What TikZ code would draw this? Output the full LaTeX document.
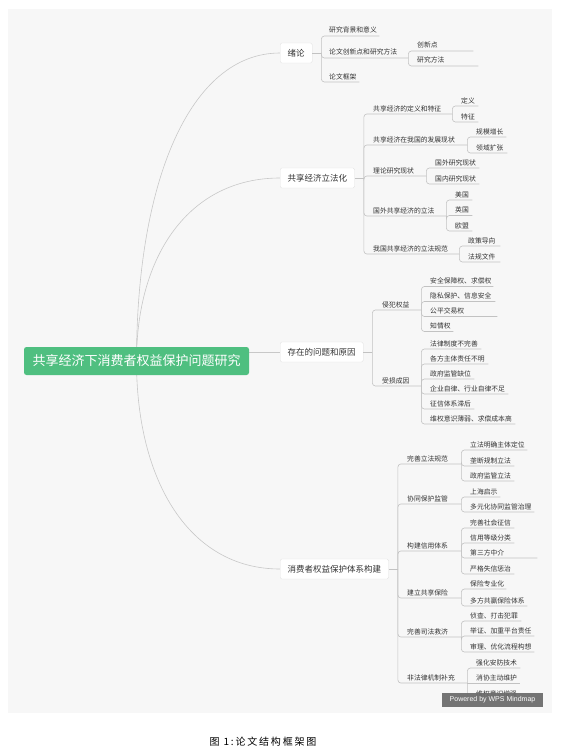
\documentclass[tikz,border=0pt]{standalone}
\usepackage{fontspec}
\setmainfont{Noto Sans CJK SC}
\newfontfamily\latinsans{Liberation Sans}
\newfontfamily\capfont[LetterSpace=18]{Noto Sans CJK SC}
\usetikzlibrary{calc}
\pgfdeclarelayer{canvas}
\pgfdeclarelayer{edges}
\pgfsetlayers{canvas,edges,main}
\definecolor{canvasbg}{HTML}{F7F7F7}
\definecolor{rootgreen}{HTML}{4FBF80}
\definecolor{linec}{HTML}{C2C2C2}
\definecolor{curvec}{HTML}{C8C8C8}
\definecolor{boxline}{HTML}{E0E0E0}
\definecolor{txt}{HTML}{333333}
\definecolor{wmark}{HTML}{6B6B6B}
\newcommand\mitem[5]{%
  \pgfmathsetmacro\mw{#4-#2-9}%
  \node[itm] (#1) at (#2+9,#3) {\makebox[\mw pt][l]{#5}};}
\newcommand\mlink[2]{\draw[conn] (#1) |- (#2.south east);}
\tikzset{
  itm/.style={anchor=south west, inner xsep=0pt, inner ysep=1.6pt, text height=5.6pt, text depth=1.2pt, font=\fontsize{6.8}{8}\selectfont, text=txt},
  conn/.style={draw=linec, line width=0.6pt, rounded corners=3pt},
  curve/.style={draw=curvec, line width=0.6pt},
  lvl1/.style={draw=boxline, fill=white, rounded corners=1.5pt, minimum height=20pt, inner xsep=7.5pt, inner ysep=0pt, anchor=west, font=\fontsize{8.5}{10}\selectfont, text=txt},
  rootnode/.style={fill=rootgreen, rounded corners=2.5pt, minimum width=225pt, minimum height=28pt, inner sep=0pt, text=white, font=\fontsize{13}{15}\selectfont}
}
\begin{document}
\begin{tikzpicture}[x=1pt,y=-1pt]
\useasboundingbox (0,0) rectangle (565,752);
\begin{pgfonlayer}{canvas}
\fill[white] (0,0) rectangle (565,752);
\fill[canvasbg] (8,9) rectangle (552,713);
\end{pgfonlayer}
% root and level 1
\node[rootnode] (root) at (136.5,361) {共享经济下消费者权益保护问题研究};
\node[lvl1] (n1) at (280,53) {绪论};
\node[lvl1] (n2) at (280,178) {共享经济立法化};
\node[lvl1] (n3) at (280,352) {存在的问题和原因};
\node[lvl1] (n4) at (280,569) {消费者权益保护体系构建};
\foreach \t in {n1,n2,n3,n4} {
  \coordinate (\t b) at ([xshift=9pt]\t.east);
  \draw[conn] (\t.east) -- (\t b);
}
\begin{pgfonlayer}{edges}
\foreach \t in {n1,n2,n4}
  \draw[curve] (root.center) .. controls ($(root.center)!0.58!(root.center |- \t.west)$) and ($(\t.west)!0.63!(root.center |- \t.west)$) .. (\t.west);
\draw[curve] (root.east |- n3.west) -- (n3.west);
\end{pgfonlayer}
% 绪论
\mitem{a1}{320}{36}{379}{研究背景和意义}
\mitem{a2}{320}{58}{408}{论文创新点和研究方法}
\mitem{a3}{320}{82}{359}{论文框架}
\mitem{a2a}{408}{51}{473}{创新点}
\mitem{a2b}{408}{66}{478}{研究方法}
\mlink{n1b}{a1}\mlink{n1b}{a2}\mlink{n1b}{a3}
\mlink{a2.south east}{a2a}\mlink{a2.south east}{a2b}
% 共享经济立法化
\mitem{b1}{364}{114}{452}{共享经济的定义和特征}
\mitem{b2}{364}{145}{467}{共享经济在我国的发展现状}
\mitem{b3}{364}{176}{426}{理论研究现状}
\mitem{b4}{364}{216}{446}{国外共享经济的立法}
\mitem{b5}{364}{254}{459}{我国共享经济的立法规范}
\mlink{n2b}{b1}\mlink{n2b}{b2}\mlink{n2b}{b3}\mlink{n2b}{b4}\mlink{n2b}{b5}
\mitem{b1a}{452}{106}{478}{定义}
\mitem{b1b}{452}{122}{478}{特征}
\mlink{b1.south east}{b1a}\mlink{b1.south east}{b1b}
\mitem{b2a}{467}{137}{506}{规模增长}
\mitem{b2b}{467}{153}{507}{领域扩张}
\mlink{b2.south east}{b2a}\mlink{b2.south east}{b2b}
\mitem{b3a}{426}{168}{479}{国外研究现状}
\mitem{b3b}{426}{184}{479}{国内研究现状}
\mlink{b3.south east}{b3a}\mlink{b3.south east}{b3b}
\mitem{b4a}{446}{200}{472}{美国}
\mitem{b4b}{446}{215.5}{472}{英国}
\mitem{b4c}{446}{231}{472}{欧盟}
\mlink{b4.south east}{b4a}\mlink{b4.south east}{b4b}\mlink{b4.south east}{b4c}
\mitem{b5a}{459}{246}{500}{政策导向}
\mitem{b5b}{459}{262}{500}{法规文件}
\mlink{b5.south east}{b5a}\mlink{b5.south east}{b5b}
% 存在的问题和原因
\mitem{c1}{373}{310}{421}{侵犯权益}
\mitem{c2}{373}{386}{421}{受损成因}
\mlink{n3b}{c1}\mlink{n3b}{c2}
\mitem{c1a}{421}{286.5}{493}{安全保障权、求偿权}
\mitem{c1b}{421}{301.5}{495}{隐私保护、信息安全}
\mitem{c1c}{421}{316.5}{497}{公平交易权}
\mitem{c1d}{421}{331.5}{453}{知情权}
\mlink{c1.south east}{c1a}\mlink{c1.south east}{c1b}\mlink{c1.south east}{c1c}\mlink{c1.south east}{c1d}
\mitem{c2a}{421}{349}{481}{法律制度不完善}
\mitem{c2b}{421}{364}{488}{各方主体责任不明}
\mitem{c2c}{421}{379}{474}{政府监管缺位}
\mitem{c2d}{421}{394}{508}{企业自律、行业自律不足}
\mitem{c2e}{421}{409}{474}{征信体系滞后}
\mitem{c2f}{421}{424}{515}{维权意识薄弱、求偿成本高}
\mlink{c2.south east}{c2a}\mlink{c2.south east}{c2b}\mlink{c2.south east}{c2c}
\mlink{c2.south east}{c2d}\mlink{c2.south east}{c2e}\mlink{c2.south east}{c2f}
% 消费者权益保护体系构建
\mitem{d1}{398}{464}{461}{完善立法规范}
\mitem{d2}{398}{504}{461}{协同保护监管}
\mitem{d3}{398}{551}{461}{构建信用体系}
\mitem{d4}{398}{598}{461}{建立共享保险}
\mitem{d5}{398}{637}{461}{完善司法救济}
\mitem{d6}{398}{683}{467}{非法律机制补充}
\mlink{n4b}{d1}\mlink{n4b}{d2}\mlink{n4b}{d3}\mlink{n4b}{d4}\mlink{n4b}{d5}\mlink{n4b}{d6}
\mitem{d1a}{461}{450}{527}{立法明确主体定位}
\mitem{d1b}{461}{466}{514}{垄断规制立法}
\mitem{d1c}{461}{481}{514}{政府监管立法}
\mlink{d1.south east}{d1a}\mlink{d1.south east}{d1b}\mlink{d1.south east}{d1c}
\mitem{d2a}{461}{497}{500}{上海启示}
\mitem{d2b}{461}{512}{534}{多元化协同监管治理}
\mlink{d2.south east}{d2a}\mlink{d2.south east}{d2b}
\mitem{d3a}{461}{528}{514}{完善社会征信}
\mitem{d3b}{461}{543}{514}{信用等级分类}
\mitem{d3c}{461}{558}{537}{第三方中介}
\mitem{d3d}{461}{574}{514}{严格失信惩治}
\mlink{d3.south east}{d3a}\mlink{d3.south east}{d3b}\mlink{d3.south east}{d3c}\mlink{d3.south east}{d3d}
\mitem{d4a}{461}{589}{506}{保险专业化}
\mitem{d4b}{461}{606}{527}{多方共赢保险体系}
\mlink{d4.south east}{d4a}\mlink{d4.south east}{d4b}
\mitem{d5a}{461}{621}{521}{侦查、打击犯罪}
\mitem{d5b}{461}{636}{534}{举证、加重平台责任}
\mitem{d5c}{461}{652}{534}{审理、优化流程构想}
\mlink{d5.south east}{d5a}\mlink{d5.south east}{d5b}\mlink{d5.south east}{d5c}
\mitem{d6a}{467}{668}{520}{强化安防技术}
\mitem{d6b}{467}{683}{520}{消协主动维护}
\mitem{d6c}{467}{699}{520}{维权意识增强}
\mlink{d6.south east}{d6a}\draw[conn] (d6.south east) -- (d6b.south east);\mlink{d6.south east}{d6c}
% watermark and caption
\node[fill=wmark, fill opacity=0.93, text opacity=1, text=white, minimum width=101pt, minimum height=14pt, inner sep=0pt, font=\latinsans\fontsize{7}{8}\selectfont] (wm) at (492.5,700) {Powered by WPS Mindmap};
\node[font=\capfont\fontsize{10}{12}\selectfont, text=black] (cap) at (263,742) {图 1:论文结构框架图};
\end{tikzpicture}
\end{document}
